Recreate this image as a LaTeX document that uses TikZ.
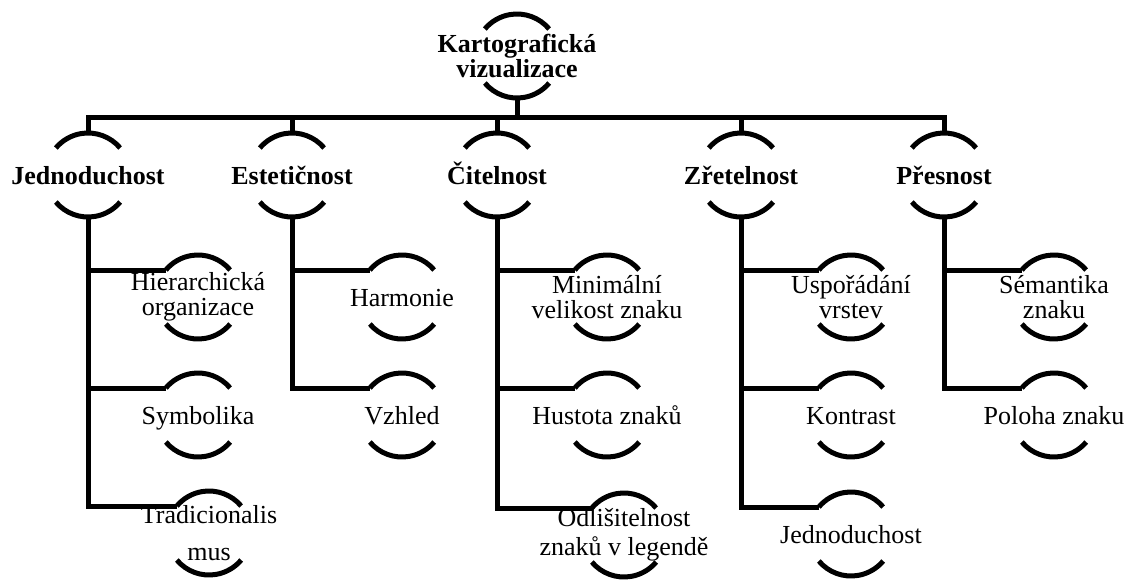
\documentclass[tikz,border=0pt]{standalone}
\usepackage{fontspec}
\setmainfont{Liberation Serif}
\usepackage{tikz}

\begin{document}
\begin{tikzpicture}[x=1pt, y=1pt, font=\fontsize{26}{25}\selectfont,
    ring/.style={line width=5pt},
    link/.style={line width=5pt, line join=miter},
    head/.style={inner sep=0pt, align=center, font=\fontsize{26}{25}\selectfont\bfseries},
    leaf/.style={inner sep=0pt, text height=18pt, text depth=0pt},
    leafs/.style={inner sep=0pt, align=center}]
          \useasboundingbox (0,0) rectangle (1127,-579);
          % koren
          \node[head] (root) at (517,-56) {Kartografická\\vizualizace};
          \coordinate (bus) at (517,-117);
          % prvni uroven
          \node[head, text height=18pt, text depth=0pt] (jed) at (88,-175)  {Jednoduchost};
          \node[head, text height=18pt, text depth=0pt] (est) at (292,-175) {Estetičnost};
          \node[head, text height=18pt, text depth=0pt] (cit) at (497,-175) {Čitelnost};
          \node[head, text height=18pt, text depth=0pt] (zre) at (741,-175) {Zřetelnost};
          \node[head, text height=18pt, text depth=0pt] (pre) at (944,-175) {Přesnost};
          % druha uroven
          \node[leafs] (hier) at (198,-297)  {Hierarchická\\organizace};
          \node[leaf]  (symb) at (198,-415)  {Symbolika};
          \node[leafs] (trad) at (209,-533)  {Tradicionalis\\[12pt]mus};
          \node[leaf]  (harm) at (402,-297)  {Harmonie};
          \node[leaf]  (vzhl) at (402,-415)  {Vzhled};
          \node[leafs] (mini) at (607,-297)  {Minimální\\velikost znaku};
          \node[leaf]  (hust) at (607,-415)  {Hustota znaků};
          \node[leafs] (odli) at (624,-535)  {Odlišitelnost\\[4pt]znaků v legendě};
          \node[leafs] (uspo) at (851,-297)  {Uspořádání\\vrstev};
          \node[leaf]  (kont) at (851,-415)  {Kontrast};
          \node[leaf]  (jedn) at (851,-534)  {Jednoduchost};
          \node[leafs] (sema) at (1054,-297) {Sémantika\\znaku};
          \node[leaf]  (polo) at (1054,-415) {Poloha znaku};
          % oblouky
          \foreach \n in {root,jed,est,cit,zre,pre,hier,symb,trad,harm,vzhl,mini,hust,odli,uspo,kont,jedn,sema,polo}
            \draw[ring] ([shift={(40:42)}]\n.center) arc[start angle=40, end angle=140, radius=42]
                        ([shift={(220:42)}]\n.center) arc[start angle=220, end angle=320, radius=42];
          % spojnice
          \draw[link] ([yshift=-42pt]root.center) -- (bus);
          \foreach \n in {jed,est,cit,zre,pre}
            \draw[link] ([yshift=42pt]\n.center) |- (bus);
          \foreach \p/\c in {jed/hier,jed/symb,jed/trad,est/harm,est/vzhl,cit/mini,cit/hust,cit/odli,
                             zre/uspo,zre/kont,zre/jedn,pre/sema,pre/polo}
            \draw[link] ([yshift=-42pt]\p.center) |- ([shift={(140:42)}]\c.center);
        \end{tikzpicture}
\end{document}
